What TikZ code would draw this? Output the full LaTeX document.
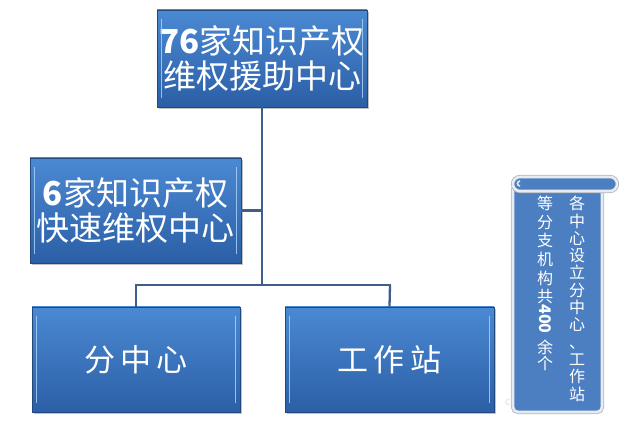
\documentclass[tikz,border=0pt]{standalone}
\usepackage{fontspec}
\newfontfamily\cjk{Noto Sans CJK SC}
\usetikzlibrary{shadows}
\definecolor{boxtop}{HTML}{4B89D3}
\definecolor{boxbot}{HTML}{2B5FA6}
\definecolor{boxedge}{HTML}{22497C}
\definecolor{bevel}{HTML}{A8D2F6}
\definecolor{linec}{HTML}{3F5F8A}
\definecolor{scrollblue}{HTML}{4C7FC2}
\definecolor{scrollrim}{HTML}{E8EBF0}
\definecolor{scrolledge}{HTML}{AEB5BF}
\tikzset{
  orgbox/.style={draw=boxedge, line width=0.8pt, top color=boxtop, bottom color=boxbot,
    text=white, align=center, inner sep=0pt,
    drop shadow={shadow xshift=1.5pt, shadow yshift=-2.5pt, opacity=0.35, fill=black!70}},
  bigtxt/.style={font=\cjk\fontsize{33}{35}\selectfont},
  lowtxt/.style={font=\cjk\fontsize{31}{35}\selectfont},
  conn/.style={draw=linec, line width=2.3pt},
  bevelline/.style={draw=bevel, line width=1.6pt, opacity=0.85},
  scrollpart/.style={fill=scrollblue, draw=scrollrim, line width=2.6pt},
  scrolltxt/.style={text=white, align=center, inner sep=0pt}
}
\begin{document}
\begin{tikzpicture}[x=1pt,y=-1pt]
\useasboundingbox (0,0) rectangle (640,435);
% nodes
\node[orgbox, bigtxt, minimum width=210pt, minimum height=97pt] (top) at (262,58.5)
  {{\bfseries 76}家知识产权\\维权援助中心};
\node[orgbox, bigtxt, minimum width=211pt, minimum height=105pt] (mid) at (135.5,210.5)
  {{\bfseries 6}家知识产权\\快速维权中心};
\node[orgbox, lowtxt, minimum width=208pt, minimum height=105pt] (bl) at (136,359.5)
  {分\,中\,心};
\node[orgbox, lowtxt, minimum width=209pt, minimum height=105pt] (br) at (389.5,359.5)
  {工\,作\,站};
% bevels
\foreach \n in {top,mid,bl,br}{
  \draw[bevelline] ([xshift=5pt,yshift=-9pt]\n.north west) -- ([xshift=5pt,yshift=9pt]\n.south west);
  \draw[bevelline] ([xshift=-5pt,yshift=-9pt]\n.north east) -- ([xshift=-5pt,yshift=9pt]\n.south east);
}
% connectors
\coordinate (j) at (262,285);
\coordinate (jl) at (136,285);
\coordinate (jr) at (390,285);
\draw[conn] (top.south) -- (j);
\draw[conn] (mid.east) -- (mid.east -| top.south);
\draw[conn, line cap=rect] (jl) -- (jr);
\draw[conn] (jl) -- (bl.north);
\draw[conn] (jr) -- (br.north);
% scroll
\draw[draw=scrolledge, line width=4.2pt, rounded corners=5pt] (513,185) rectangle (602,412);
\draw[scrollpart, rounded corners=5pt] (513,185) rectangle (602,412);
\draw[draw=scrolledge, line width=4.2pt, rounded corners=7pt] (513,177) rectangle (617,191);
\draw[scrollpart, rounded corners=7pt] (513,177) rectangle (617,191);
\draw[scrollrim, line width=1.6pt] (520,181) arc (90:270:2.5pt);
\draw[scrollrim, line width=1.6pt] (509,399) arc (90:270:3pt);
\node[scrolltxt, anchor=north, font=\cjk\fontsize{16}{17.3}\selectfont] (c1) at (577,196)
  {各\\中\\心\\设\\立\\分\\中\\心\\、\\工\\作\\站};
\node[scrolltxt, anchor=north, font=\cjk\fontsize{16}{18.6}\selectfont] (c2) at (545,196)
  {等\\分\\支\\机\\构\\共};
\node[scrolltxt, font=\cjk\bfseries\fontsize{16}{18}\selectfont] (c3) at (545,319)
  {\rotatebox[origin=c]{-90}{400}};
\node[scrolltxt, font=\cjk\fontsize{16}{16}\selectfont] (c4) at (545,355) {余\\个};
\end{tikzpicture}
\end{document}
